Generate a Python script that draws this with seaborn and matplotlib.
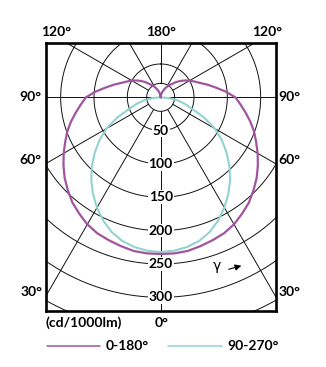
import numpy as np
import pandas as pd
import matplotlib
matplotlib.use("Agg")
import matplotlib.pyplot as plt
from matplotlib.lines import Line2D
import seaborn as sns

# ---- data (cd/1000lm) ----
gamma_c0 = [0, 5, 10, 15, 20, 25, 30, 35, 40, 45, 50, 55, 60, 65, 70, 75, 80, 85, 90,
            95, 100, 105, 110, 115, 120, 125, 130, 135, 140, 145, 150, 155, 160, 165, 170, 175, 180]
int_c0 = [235, 235, 234, 231, 228, 225, 220, 213, 206, 197, 188, 178, 168, 158, 149, 139, 129, 120, 112,
          98, 84, 73, 63, 56, 50, 44, 38, 32, 26, 22, 18, 14, 10, 7, 4, 2, 0]

gamma_c90 = [0, 5, 10, 15, 20, 25, 30, 35, 40, 45, 50, 55, 60, 65, 70, 75, 80, 85, 90]
int_c90 = [232, 231, 228, 223, 215, 204, 191, 177, 162, 146, 129, 112, 94, 72, 50, 37, 25, 12, 0]

ring_labels = [50, 100, 150, 200, 250, 300]
series_names = ["0-180°", "90-270°"]
unit_label = "(cd/1000lm)"

W, H = 326, 367
sns.set_style("white")
plt.rcParams["font.family"] = ["Lato", "DejaVu Sans"]

fig = plt.figure(figsize=(W / 100, H / 100), dpi=100)
ax = fig.add_axes([46 / W, 1 - 311 / H, 230 / W, 267.5 / H])
ax.set_xlim(-172, 173)
ax.set_ylim(-320.5, 80.7)
ax.set_xticks([])
ax.set_yticks([])
for s in ax.spines.values():
    s.set_linewidth(1.9)
    s.set_color("black")
    s.set_visible(True)

grid_kw = dict(color="#111111", lw=0.7, zorder=1)
# rings
th = np.linspace(0, 2 * np.pi, 721)
for r in [21, 50, 100, 150, 200, 250, 300, 350, 400]:
    ax.plot(r * np.sin(th), r * np.cos(th), **grid_kw)
# spokes
for deg in [0, 30, 60, 120, 150, 180]:
    a = np.deg2rad(deg)
    for sgn in (-1, 1):
        ax.plot([sgn * 21 * np.sin(a), sgn * 600 * np.sin(a)],
                [-21 * np.cos(a), -600 * np.cos(a)], **grid_kw)
ax.plot([-600, 600], [0, 0], **grid_kw)


def curve_df(gam, inten):
    g = np.asarray(gam, float)
    r = np.asarray(inten, float)
    gg = np.concatenate([-g[::-1], g[1:]])
    rr = np.concatenate([r[::-1], r[1:]])
    rad = np.deg2rad(gg)
    return pd.DataFrame({"x": rr * np.sin(rad), "y": -rr * np.cos(rad), "order": np.arange(len(gg))})


col_c0 = "#a0559e"
col_c90 = "#93d3cf"
sns.lineplot(data=curve_df(gamma_c90, int_c90), x="x", y="y", sort=False, estimator=None,
             color=col_c90, lw=1.5, ax=ax, zorder=4)
sns.lineplot(data=curve_df(gamma_c0, int_c0), x="x", y="y", sort=False, estimator=None,
             color=col_c0, lw=1.6, ax=ax, zorder=5)
ax.set_xlabel("")
ax.set_ylabel("")

fs = 10
tkw = dict(fontsize=fs, color="black", fontweight="bold")
for r in ring_labels:
    ax.text(0, -r, str(r), ha="center", va="center", zorder=3,
            bbox=dict(facecolor="white", edgecolor="none", pad=0.6), **tkw)


def ftext(px, py, s, ha="center", **kw):
    kk = dict(tkw)
    kk.update(kw)
    fig.text(px / W, 1 - py / H, s, ha=ha, va="center", **kk)


ftext(56, 32, "120°")
ftext(161, 32, "180°")
ftext(267, 32, "120°")
ftext(30, 97, "90°")
ftext(289, 97, "90°")
ftext(30, 160, "60°")
ftext(289, 160, "60°")
ftext(31, 292, "30°")
ftext(289, 292, "30°")
ftext(162, 323, "0°")
ftext(46, 323, unit_label, ha="left")
ftext(217, 266, "γ", family=["DejaVu Sans"], fontweight="normal")
ax.annotate("", xy=(244, H - 265), xytext=(226, H - 270), xycoords="figure pixels",
            textcoords="figure pixels",
            arrowprops=dict(arrowstyle="-|>", lw=0.8, color="black", mutation_scale=9))

# legend
for (x0, x1, c, name, tx) in [(46.5, 100, col_c0, series_names[0], 106),
                              (168, 222, col_c90, series_names[1], 227)]:
    fig.add_artist(Line2D([x0 / W, x1 / W], [1 - 346 / H, 1 - 346 / H], color=c, lw=1.1,
                          transform=fig.transFigure))
    ftext(tx, 346, name, ha="left")

fig.savefig("out.png", dpi=100)
